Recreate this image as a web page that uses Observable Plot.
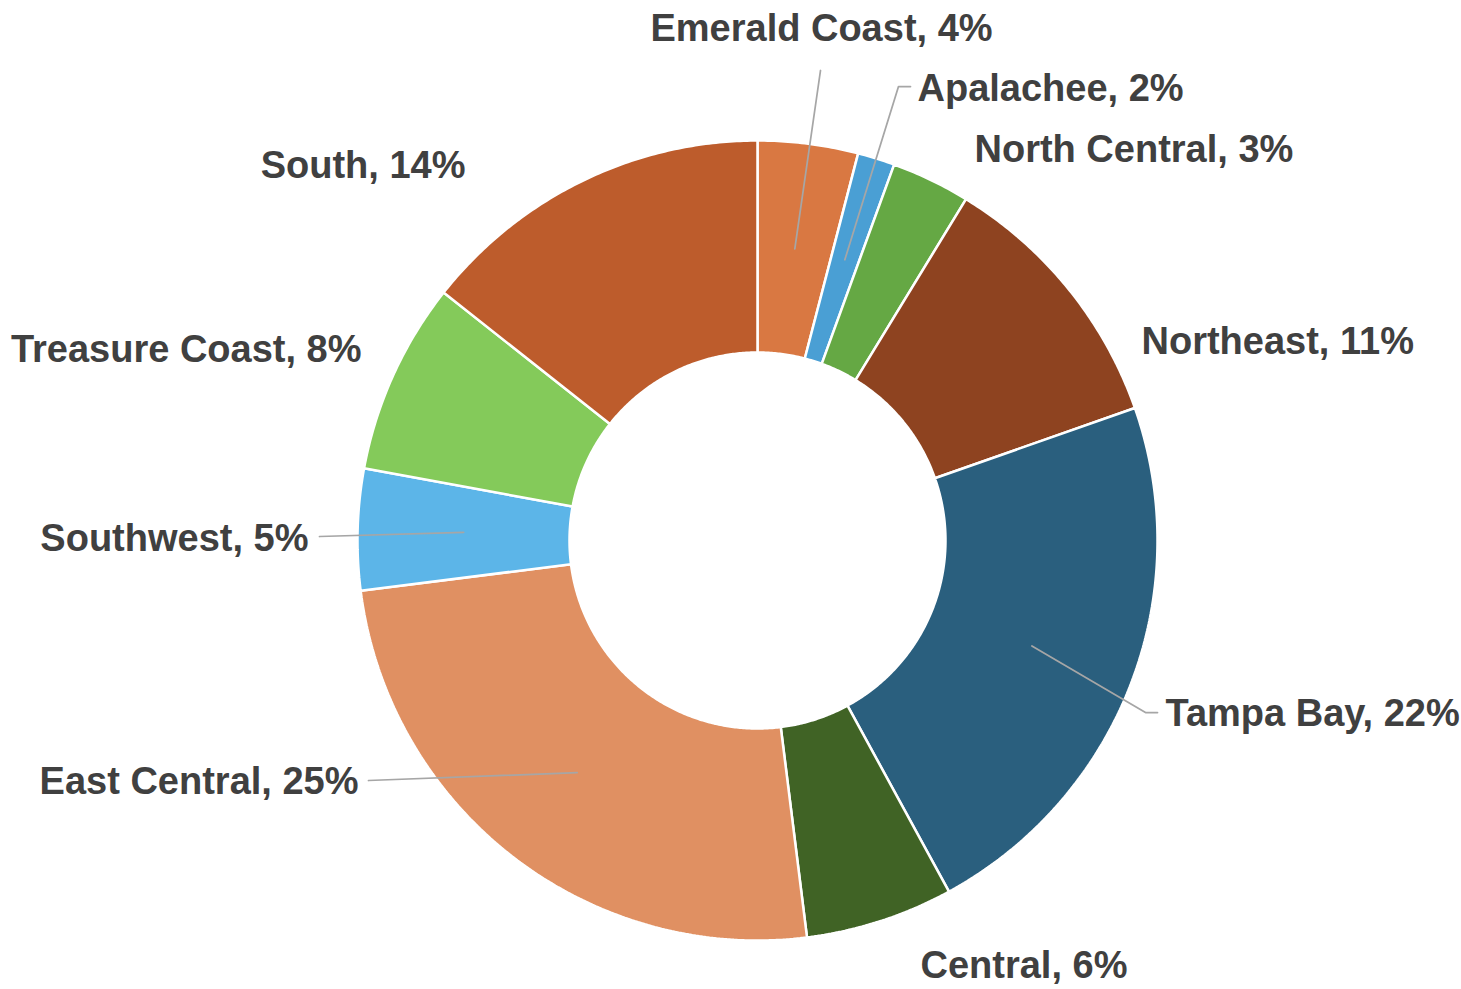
<!DOCTYPE html>
<html><head><meta charset="utf-8">
<script src="https://cdn.jsdelivr.net/npm/d3@7"></script>
<script src="https://cdn.jsdelivr.net/npm/@observablehq/plot@0.6"></script>
<style>html,body{margin:0;padding:0;background:#fff;} #chart svg{display:block}</style>
</head><body><div id="chart"></div>
<script>
// ---- data ----
const regions = ["Emerald Coast","Apalachee","North Central","Northeast","Tampa Bay","Central","East Central","Southwest","Treasure Coast","South"];
const shares = [4.05, 1.5, 3.18, 10.9, 22.43, 5.97, 24.97, 4.9, 7.75, 14.36];
const pctLabels = ["4%","2%","3%","11%","22%","6%","25%","5%","8%","14%"];
const colors = ["#D97842","#4A9FD4","#65A844","#8E4320","#2A5F7E","#406325","#E09062","#5CB5E8","#84CA5A","#BD5C2C"];

// ---- layout (label placement, pixel offsets from donut centre, y up) ----
const labelLayout = {
  "Emerald Coast":  {x: 64,   y: 512,  anchor: "middle", leader: [[63, 470]]},
  "Apalachee":      {x: 160,  y: 452,  anchor: "start",  leader: [[141, 454],[153, 454]]},
  "North Central":  {x: 217,  y: 391,  anchor: "start"},
  "Northeast":      {x: 384,  y: 199,  anchor: "start"},
  "Tampa Bay":      {x: 408,  y: -173, anchor: "start",  leader: [[388, -172],[400, -172]]},
  "Central":        {x: 163,  y: -425, anchor: "start"},
  "East Central":   {x: -399, y: -241, anchor: "end",    leader: [[-389, -240]]},
  "Southwest":      {x: -449, y: 2,    anchor: "end",    leader: [[-438, 4]]},
  "Treasure Coast": {x: -396, y: 191,  anchor: "end"},
  "South":          {x: -292, y: 375,  anchor: "end"}
};
const W = 1461, H = 989, CX = 757, CY = 540;
const R_OUT = 400, R_IN = 188;

const pie = d3.pie().sort(null).startAngle(0).endAngle(2 * Math.PI)(shares);

const slicePts = [];
const leaderPts = [];
const labelRows = [];
pie.forEach((p, i) => {
  const region = regions[i];
  const n = Math.max(4, Math.ceil((p.endAngle - p.startAngle) / (Math.PI / 360)));
  for (let k = 0; k <= n; k++) {
    const a = p.startAngle + (p.endAngle - p.startAngle) * k / n;
    slicePts.push({region, x: R_OUT * Math.sin(a), y: R_OUT * Math.cos(a)});
  }
  for (let k = n; k >= 0; k--) {
    const a = p.startAngle + (p.endAngle - p.startAngle) * k / n;
    slicePts.push({region, x: R_IN * Math.sin(a), y: R_IN * Math.cos(a)});
  }
  const L = labelLayout[region];
  labelRows.push({region, x: L.x, y: L.y, anchor: L.anchor, text: `${region}, ${pctLabels[i]}`});
  if (L.leader) {
    const mid = (p.startAngle + p.endAngle) / 2, rm = (R_OUT + R_IN) / 2;
    leaderPts.push({region, x: rm * Math.sin(mid), y: rm * Math.cos(mid)});
    L.leader.forEach(([x, y]) => leaderPts.push({region, x, y}));
  }
});

const textOpts = anchor => ({
  x: "x", y: "y", text: "text", textAnchor: anchor,
  fontSize: 38, fontWeight: "bold", fill: "#404040",
  fontFamily: "'Liberation Sans', Arial, sans-serif"
});

const chart = Plot.plot({
  width: W, height: H, margin: 0,
  x: {domain: [-CX, W - CX], axis: null},
  y: {domain: [CY - H, CY], axis: null},
  color: {domain: regions, range: colors},
  marks: [
    Plot.line(slicePts, {x: "x", y: "y", z: "region", fill: "region", stroke: "white", strokeWidth: 2.5, strokeLinejoin: "miter", curve: "linear-closed"}),
    Plot.line(leaderPts, {x: "x", y: "y", z: "region", stroke: "#A6A6A6", strokeWidth: 1.75}),
    Plot.text(labelRows.filter(d => d.anchor === "start"), textOpts("start")),
    Plot.text(labelRows.filter(d => d.anchor === "end"), textOpts("end")),
    Plot.text(labelRows.filter(d => d.anchor === "middle"), textOpts("middle"))
  ]
});
document.getElementById("chart").appendChild(chart);
</script>
</body></html>
